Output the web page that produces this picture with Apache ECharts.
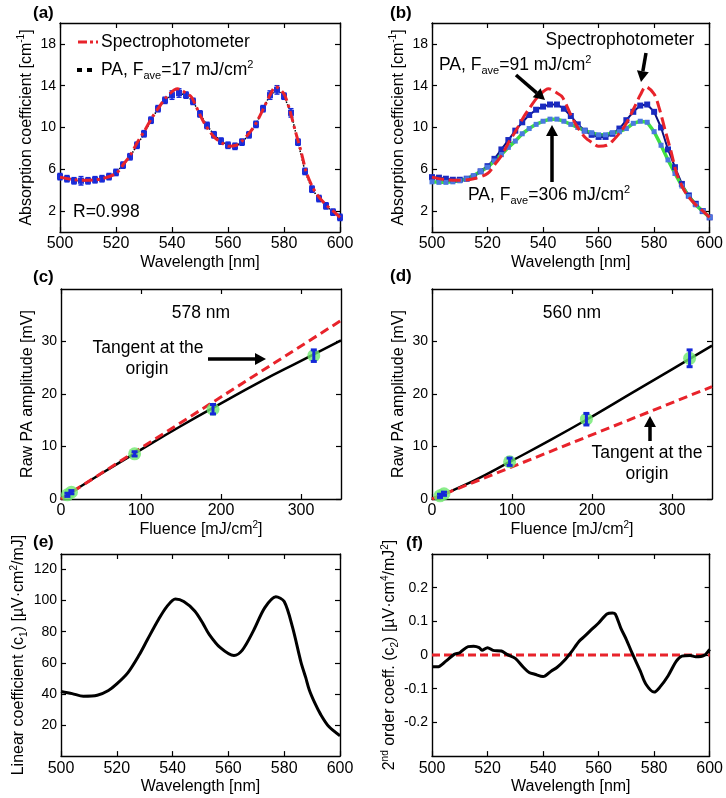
<!DOCTYPE html>
<html>
<head>
<meta charset="utf-8">
<script src="https://cdn.jsdelivr.net/npm/echarts@6/dist/echarts.min.js"></script>
<style>
  html, body { margin: 0; padding: 0; background: #fff; }
  #chart { width: 726px; height: 798px; }
</style>
</head>
<body>
<div id="chart"></div>
<script>
// ---- data ----
// spectrophotometer reference spectrum, panels (a) and (b)
const specWl  = [500, 505, 510, 515, 520, 523, 525, 528, 530, 533, 535, 538, 542, 545, 547, 550, 552, 555, 558, 560, 563, 565, 568, 570, 573, 575, 577, 580, 582, 584, 586, 588, 590, 592, 595, 598, 600];
const specAbs = [5.25, 5.0, 4.95, 5.1, 5.6, 6.6, 7.3, 8.75, 9.6, 11.0, 11.8, 12.9, 13.7, 13.3, 12.9, 11.2, 10.2, 9.1, 8.5, 8.2, 8.3, 8.7, 9.6, 10.4, 12.0, 13.1, 13.9, 13.2, 11.7, 9.7, 7.8, 5.7, 4.4, 3.5, 2.6, 1.9, 1.4];

// PA wavelengths (2.5 nm steps)
const paWl = [500, 502.5, 505, 507.5, 510, 512.5, 515, 517.5, 520, 522.5, 525, 527.5, 530, 532.5, 535, 537.5, 540, 542.5, 545, 547.5, 550, 552.5, 555, 557.5, 560, 562.5, 565, 567.5, 570, 572.5, 575, 577.5, 580, 582.5, 585, 587.5, 590, 592.5, 595, 597.5, 600];
const pa17  = [5.3, 5.1, 4.9, 4.9, 4.9, 5.0, 5.1, 5.3, 5.7, 6.4, 7.2, 8.3, 9.4, 10.7, 11.8, 12.6, 13.1, 13.3, 13.1, 12.5, 11.3, 10.2, 9.3, 8.7, 8.3, 8.2, 8.6, 9.3, 10.3, 11.8, 13.1, 13.6, 13.0, 11.4, 8.6, 5.8, 4.1, 3.2, 2.5, 1.9, 1.4];
const pa17Err = [0.3, 0.3, 0.3, 0.4, 0.3, 0.3, 0.3, 0.3, 0.3, 0.3, 0.3, 0.3, 0.3, 0.3, 0.3, 0.3, 0.4, 0.4, 0.3, 0.3, 0.3, 0.3, 0.3, 0.3, 0.3, 0.3, 0.3, 0.3, 0.3, 0.3, 0.4, 0.4, 0.3, 0.4, 0.3, 0.3, 0.3, 0.3, 0.3, 0.3, 0.3];
const pa91  = [5.25, 5.2, 5.1, 5.0, 5.0, 5.1, 5.3, 5.8, 6.3, 7.0, 7.9, 8.8, 9.7, 10.5, 11.2, 11.7, 12.0, 12.2, 12.2, 11.8, 11.1, 10.3, 9.7, 9.3, 9.1, 9.1, 9.4, 9.9, 10.7, 11.5, 12.1, 12.2, 11.5, 10.0, 7.9, 6.2, 4.6, 3.5, 2.7, 2.0, 1.4];
const pa306 = [4.8, 4.75, 4.75, 4.8, 4.9, 5.1, 5.4, 5.8, 6.2, 6.8, 7.4, 8.1, 8.7, 9.4, 9.9, 10.3, 10.6, 10.8, 10.8, 10.6, 10.3, 10.0, 9.7, 9.5, 9.3, 9.3, 9.5, 9.6, 9.9, 10.4, 10.6, 10.5, 9.6, 8.3, 6.9, 5.6, 4.4, 3.4, 2.6, 2.0, 1.4];

// panel (c) 578 nm
const cFluence = [8, 13, 92, 190, 316];
const cAmp     = [0.8, 1.3, 8.6, 17.1, 27.3];
const cErr     = [0.3, 0.3, 0.4, 0.9, 1.1];
const fitF     = [0, 50, 100, 150, 200, 250, 300, 350];
const cFit     = [0, 4.8, 9.4, 13.9, 18.2, 22.4, 26.3, 30.2];
const tanF     = [0, 350];
const cTan     = [0, 34.0];

// panel (d) 560 nm
const dFluence = [10, 15, 97, 193, 322];
const dAmp     = [0.6, 1.0, 7.1, 15.2, 26.8];
const dErr     = [0.3, 0.3, 0.7, 1.1, 1.6];
const dFit     = [0, 3.3, 7.3, 11.4, 15.7, 20.2, 24.7, 29.2];
const dTan     = [0, 21.4];

// panel (e) linear coefficient
const eWl = [500, 504, 508, 513, 517, 520, 524, 528, 531, 535, 538, 541, 544, 548, 551, 553, 557, 562, 565, 569, 573, 577, 580, 583, 586, 587.7, 589, 591, 593, 596, 600];
const eC1 = [41.6, 40.2, 38.5, 39.1, 42.2, 46.4, 53.7, 65.0, 75.0, 88, 96.3, 101, 99.4, 93.2, 84.9, 78.6, 69.9, 64.7, 68.2, 80.7, 95.3, 102.5, 99.4, 82.8, 60.5, 50.6, 42.5, 34.0, 27.0, 19.0, 13.1];

// panel (f) 2nd order coefficient
const fWl = [500, 502, 505, 508, 510, 513, 515, 517, 518, 520, 522, 525, 527, 530, 533, 535, 537, 540, 543, 545, 548, 550, 553, 555, 558, 560, 563, 565, 566, 568, 570, 572, 575, 577, 580, 582, 585, 588, 590, 593, 595, 598, 600];
const fC2 = [-0.035, -0.035, -0.018, 0.002, 0.007, 0.025, 0.026, 0.022, 0.014, 0.022, 0.014, 0.012, 0.002, -0.01, -0.037, -0.052, -0.057, -0.064, -0.047, -0.037, -0.013, 0.007, 0.041, 0.056, 0.08, 0.095, 0.122, 0.125, 0.122, 0.08, 0.046, 0.007, -0.047, -0.086, -0.11, -0.096, -0.062, -0.018, -0.003, -0.001, -0.005, -0.001, 0.017];
const zeroWl = [500, 600];
const zeroC2 = [0, 0];

// tick positions
const wlTicks   = [500, 520, 540, 560, 580, 600];
const absTicks  = [2, 6, 10, 14, 18];
const fluTicks  = [0, 100, 200, 300];
const ampTicks  = [0, 10, 20, 30];
const c1Ticks   = [20, 40, 60, 80, 100, 120];
const c2Ticks   = [-0.2, -0.1, 0, 0.1, 0.2];

const zip = (xs, ys) => xs.map((x, i) => [x, ys[i]]);

const FONT = "'Liberation Sans', Arial, sans-serif";
const RICH = {
  sup: { fontSize: 10, lineHeight: 12, verticalAlign: 'top', fontFamily: FONT, color: '#000' },
  sub: { fontSize: 10, lineHeight: 10, verticalAlign: 'bottom', fontFamily: FONT, color: '#000' }
};
const RICH_BIG = {
  sup: { fontSize: 11, lineHeight: 12, verticalAlign: 'top', fontFamily: FONT, color: '#000' },
  sub: { fontSize: 11, lineHeight: 10, verticalAlign: 'bottom', fontFamily: FONT, color: '#000' }
};

const grids = [
  { left: 60, top: 23, width: 280, height: 209 },
  { left: 432, top: 23, width: 280, height: 209 },
  { left: 61, top: 289, width: 280, height: 210 },
  { left: 432, top: 289, width: 280, height: 210 },
  { left: 61, top: 554, width: 279, height: 209 },
  { left: 432, top: 554, width: 280, height: 209 }
];

function axisDef(gi, pos, r, main, fs) {
  return {
    gridIndex: gi, type: 'value', position: pos, min: r.min, max: r.max,
    axisLine: { show: true, onZero: false, lineStyle: { color: '#000', width: 1.4 } },
    axisTick: { show: true, inside: true, length: 5, customValues: r.ticks, lineStyle: { color: '#000', width: 1.2 } },
    axisLabel: { show: main, customValues: r.ticks, formatter: r.fmt, fontSize: fs, color: '#000', fontFamily: FONT, margin: 4 },
    splitLine: { show: false },
    name: main ? r.name : '', nameLocation: 'middle', nameGap: r.gap,
    nameTextStyle: { fontSize: 16, color: '#000', fontFamily: FONT, lineHeight: 20, rich: RICH }
  };
}
const xAxis = [], yAxis = [];
function addAxes(gi, xr, yr) {
  xAxis.push(axisDef(gi, 'bottom', xr, true, 16), axisDef(gi, 'top', xr, false, 16));
  yAxis.push(axisDef(gi, 'left', yr, true, 14), axisDef(gi, 'right', yr, false, 14));
}
const wlAxis = gap => ({ min: 500, max: 600, ticks: wlTicks, name: 'Wavelength [nm]', gap: gap });
const absAxis = { min: 0, max: 20, ticks: absTicks, name: 'Absorption coefficient [cm{sup|-1}]', gap: 22 };
const fluAxis = { min: 0, max: 350, ticks: fluTicks, name: 'Fluence [mJ/cm{sup|2}]', gap: 19 };
const ampAxis = { min: 0, max: 40, ticks: ampTicks, name: 'Raw PA amplitude [mV]', gap: 20 };

addAxes(0, wlAxis(14), absAxis);
addAxes(1, wlAxis(14), absAxis);
addAxes(2, fluAxis, ampAxis);
addAxes(3, fluAxis, ampAxis);
addAxes(4, wlAxis(13), { min: 0, max: 130, ticks: c1Ticks, name: 'Linear coefficient (c{sub|1}) [µV·cm{sup|2}/mJ]', gap: 32 });
addAxes(5, wlAxis(13), { min: -0.3, max: 0.3, ticks: c2Ticks, fmt: v => (v === 0 ? '0' : v.toFixed(1)),
  name: '2{sup|nd} order coeff. (c{sub|2}) [µV·cm{sup|4}/mJ{sup|2}]', gap: 30 });

const ax = gi => ({ xAxisIndex: gi * 2, yAxisIndex: gi * 2 });

function errorSeries(gi, xs, ys, es, lw, cap) {
  return Object.assign({
    type: 'custom', z: 5,
    data: xs.map((x, i) => [x, ys[i], es[i]]),
    renderItem(params, api) {
      const x = api.value(0), y = api.value(1), e = api.value(2);
      const lo = api.coord([x, y - e]), hi = api.coord([x, y + e]);
      const st = { stroke: '#1428d8', lineWidth: lw };
      return { type: 'group', children: [
        { type: 'line', shape: { x1: lo[0], y1: lo[1], x2: hi[0], y2: hi[1] }, style: st },
        { type: 'line', shape: { x1: lo[0] - cap, y1: lo[1], x2: lo[0] + cap, y2: lo[1] }, style: st },
        { type: 'line', shape: { x1: hi[0] - cap, y1: hi[1], x2: hi[0] + cap, y2: hi[1] }, style: st }
      ] };
    }
  }, ax(gi));
}

const RED = '#e8232b';
const series = [
  // (a)
  errorSeries(0, paWl, pa17, pa17Err, 1.5, 2.5),
  Object.assign({ type: 'line', data: zip(paWl, pa17), symbol: 'rect', symbolSize: 6, z: 2,
    itemStyle: { color: '#2030d8' }, lineStyle: { color: '#000', width: 1.5, type: 'dotted' } }, ax(0)),
  Object.assign({ type: 'line', data: zip(specWl, specAbs), showSymbol: false, smooth: 0.3, z: 6,
    lineStyle: { color: RED, width: 3, type: [11, 4, 3, 4] } }, ax(0)),
  // (b)
  Object.assign({ type: 'line', data: zip(paWl, pa91), symbol: 'rect', symbolSize: 6, z: 2,
    itemStyle: { color: '#1a2ac0' }, lineStyle: { color: '#0c1080', width: 2 } }, ax(1)),
  Object.assign({ type: 'line', data: zip(paWl, pa306), symbol: 'rect', symbolSize: 5, z: 2,
    itemStyle: { color: '#4a78e0' }, lineStyle: { color: '#3fe040', width: 3.5 } }, ax(1)),
  Object.assign({ type: 'line', data: zip(specWl, specAbs), showSymbol: false, smooth: 0.3, z: 3,
    lineStyle: { color: RED, width: 3, type: [12, 5] } }, ax(1)),
  // (c)
  Object.assign({ type: 'line', data: zip(fitF, cFit), showSymbol: false, smooth: true,
    lineStyle: { color: '#000', width: 2.5 } }, ax(2)),
  Object.assign({ type: 'line', data: zip(tanF, cTan), showSymbol: false,
    lineStyle: { color: RED, width: 3, type: [9, 5] } }, ax(2)),
  Object.assign({ type: 'scatter', data: zip(cFluence, cAmp), symbolSize: 13, z: 4,
    itemStyle: { color: '#6ee86e' } }, ax(2)),
  errorSeries(2, cFluence, cAmp, cErr, 3, 3),
  // (d)
  Object.assign({ type: 'line', data: zip(fitF, dFit), showSymbol: false, smooth: true,
    lineStyle: { color: '#000', width: 2.5 } }, ax(3)),
  Object.assign({ type: 'line', data: zip(tanF, dTan), showSymbol: false,
    lineStyle: { color: RED, width: 3, type: [9, 5] } }, ax(3)),
  Object.assign({ type: 'scatter', data: zip(dFluence, dAmp), symbolSize: 13, z: 4,
    itemStyle: { color: '#6ee86e' } }, ax(3)),
  errorSeries(3, dFluence, dAmp, dErr, 3, 3),
  // (e)
  Object.assign({ type: 'line', data: zip(eWl, eC1), showSymbol: false, smooth: 0.3,
    lineStyle: { color: '#000', width: 3 } }, ax(4)),
  // (f)
  Object.assign({ type: 'line', data: zip(zeroWl, zeroC2), showSymbol: false,
    lineStyle: { color: RED, width: 3, type: [8, 4] } }, ax(5)),
  Object.assign({ type: 'line', data: zip(fWl, fC2), showSymbol: false, smooth: 0.3, z: 3,
    lineStyle: { color: '#000', width: 3 } }, ax(5))
];

// ---- annotations ----
function txt(x, y, text, opt) {
  return { type: 'text', x: x, y: y, z: 100, style: Object.assign({
    text: text, fontSize: 17.5, fontFamily: FONT, fill: '#000', lineHeight: 22,
    align: 'left', verticalAlign: 'middle', rich: RICH_BIG }, opt || {}) };
}
function arrow(x1, y1, x2, y2) {
  const a = Math.atan2(y2 - y1, x2 - x1), L = 11, W = 6;
  const bx = x2 - L * Math.cos(a), by = y2 - L * Math.sin(a);
  const px = -Math.sin(a) * W, py = Math.cos(a) * W;
  return [
    { type: 'line', z: 100, shape: { x1: x1, y1: y1, x2: bx, y2: by }, style: { stroke: '#000', lineWidth: 3.5 } },
    { type: 'polygon', z: 100, shape: { points: [[x2, y2], [bx + px, by + py], [bx - px, by - py]] }, style: { fill: '#000' } }
  ];
}
const bold = { fontWeight: 'bold', fontSize: 17 };
const graphic = [
  txt(33, 13, '(a)', bold), txt(390, 13, '(b)', bold),
  txt(33, 277, '(c)', bold), txt(390, 276, '(d)', bold),
  txt(33, 542, '(e)', bold), txt(406, 543, '(f)', bold),
  // (a) legend
  { type: 'line', z: 100, shape: { x1: 78, y1: 42, x2: 98, y2: 42 }, style: { stroke: RED, lineWidth: 3, lineDash: [9, 3, 3, 3] } },
  { type: 'line', z: 100, shape: { x1: 77, y1: 70, x2: 93, y2: 70 }, style: { stroke: '#000', lineWidth: 4, lineDash: [5, 5] } },
  txt(101, 42, 'Spectrophotometer'),
  txt(101, 70, 'PA, F{sub|ave}=17 mJ/cm{sup|2}'),
  txt(73, 212, 'R=0.998'),
  // (b)
  txt(620, 40, 'Spectrophotometer', { align: 'center' }),
  txt(439, 65, 'PA, F{sub|ave}=91 mJ/cm{sup|2}'),
  txt(468, 195, 'PA, F{sub|ave}=306 mJ/cm{sup|2}'),
  ...arrow(646, 53, 641, 82),
  ...arrow(516, 75, 545, 100),
  ...arrow(552, 182, 552, 125),
  // (c)
  txt(201, 313, '578 nm', { align: 'center' }),
  txt(148, 348, 'Tangent at the', { align: 'center' }),
  txt(147, 369, 'origin', { align: 'center' }),
  ...arrow(208, 359, 266, 359),
  // (d)
  txt(572, 313, '560 nm', { align: 'center' }),
  txt(647, 453, 'Tangent at the', { align: 'center' }),
  txt(647, 474, 'origin', { align: 'center' }),
  ...arrow(650, 441, 650, 416)
];

const chart = echarts.init(document.getElementById('chart'));
chart.setOption({
  animation: false,
  backgroundColor: '#fff',
  textStyle: { fontFamily: FONT },
  grid: grids,
  xAxis: xAxis,
  yAxis: yAxis,
  series: series,
  graphic: graphic
});
</script>
</body>
</html>
